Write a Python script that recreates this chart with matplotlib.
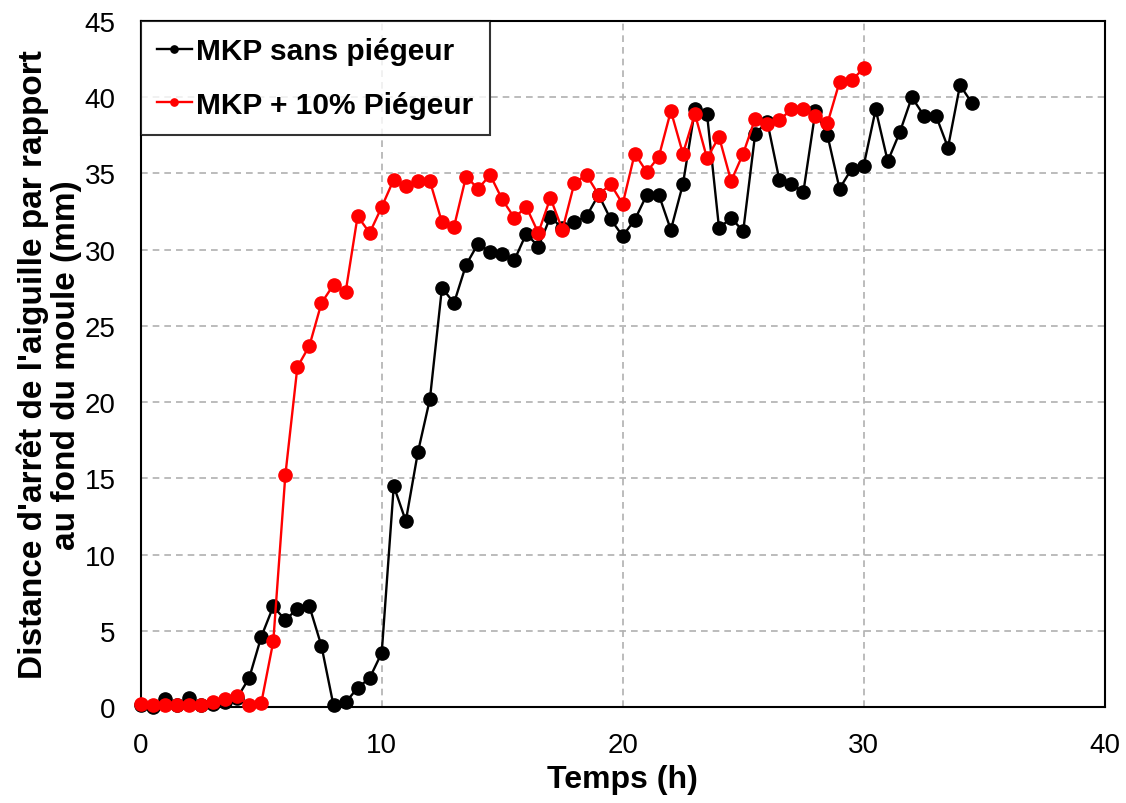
import numpy as np
import matplotlib
matplotlib.use("Agg")
import matplotlib.pyplot as plt

plt.rcParams['font.family'] = ['Liberation Sans', 'DejaVu Sans']

# MKP sans piegeur (black), every 0.5 h from 0 to 34.5 h
t_sans = np.arange(0, 35, 0.5)
d_sans = [0.1, 0.0, 0.5, 0.1, 0.6, 0.1, 0.2, 0.3, 0.6, 1.9,
          4.6, 6.6, 5.7, 6.45, 6.6, 4.0, 0.1, 0.3, 1.25, 1.9,
          3.55, 14.5, 12.2, 16.7, 20.2, 27.5, 26.5, 29.0, 30.4, 29.85,
          29.7, 29.3, 31.05, 30.2, 32.15, 31.4, 31.8, 32.2, 33.6, 32.0,
          30.9, 31.95, 33.6, 33.6, 31.3, 34.3, 39.2, 38.9, 31.4, 32.1,
          31.2, 37.6, 38.4, 34.6, 34.3, 33.8, 39.1, 37.5, 34.0, 35.3,
          35.5, 39.2, 35.8, 37.7, 40.0, 38.8, 38.8, 36.7, 40.8, 39.6]

# MKP + 10% piegeur (red), every 0.5 h from 0 to 30 h
t_pieg = np.arange(0, 30.5, 0.5)
d_pieg = [0.2, 0.1, 0.1, 0.1, 0.1, 0.1, 0.3, 0.5, 0.7, 0.1,
          0.25, 4.3, 15.2, 22.3, 23.7, 26.5, 27.7, 27.2, 32.2, 31.1,
          32.8, 34.6, 34.2, 34.5, 34.5, 31.8, 31.5, 34.8, 34.0, 34.9,
          33.3, 32.1, 32.8, 31.1, 33.4, 31.3, 34.4, 34.9, 33.6, 34.3,
          33.0, 36.3, 35.1, 36.1, 39.1, 36.3, 38.9, 36.0, 37.4, 34.5,
          36.3, 38.6, 38.25, 38.5, 39.2, 39.2, 38.8, 38.3, 41.0, 41.1,
          41.9]

fig = plt.figure(figsize=(11.26, 8.04), dpi=100)
ax = fig.add_axes([0.125, 0.1194, 0.856, 0.8532])

ax.plot(t_sans, d_sans, '-o', color='black', lw=1.7, ms=9.5,
        label='MKP sans piégeur', clip_on=False, zorder=3)
ax.plot(t_pieg, d_pieg, '-o', color='red', lw=1.7, ms=9.5,
        label='MKP + 10% Piégeur', clip_on=False, zorder=4)

ax.set_xlim(0, 40)
ax.set_ylim(0, 45)
ax.set_xticks(np.arange(0, 41, 10))
ax.set_yticks(np.arange(0, 46, 5))
ax.grid(True, linestyle=(0, (4, 3)), color='#b0b0b0', lw=1.2)
ax.set_axisbelow(True)
for s in ax.spines.values():
    s.set_linewidth(1.5)
ax.tick_params(labelsize=20, length=0, pad=18)

ax.set_xlabel('Temps (h)', fontsize=23, fontweight='bold', labelpad=4)
ax.set_ylabel("Distance d'arrêt de l'aiguille par rapport\nau fond du moule (mm)",
              fontsize=24, fontweight='bold', labelpad=2, linespacing=1.1)

leg = ax.legend(loc='upper left', prop={'weight': 'bold', 'size': 21.5},
                handlelength=1.15, handletextpad=0.15, borderaxespad=0,
                fancybox=False, frameon=True, borderpad=0.55, labelspacing=0.85,
                markerscale=0.55)
leg.get_frame().set_edgecolor('black')
leg.get_frame().set_linewidth(1.5)

fig.savefig('out.png', dpi=100)
